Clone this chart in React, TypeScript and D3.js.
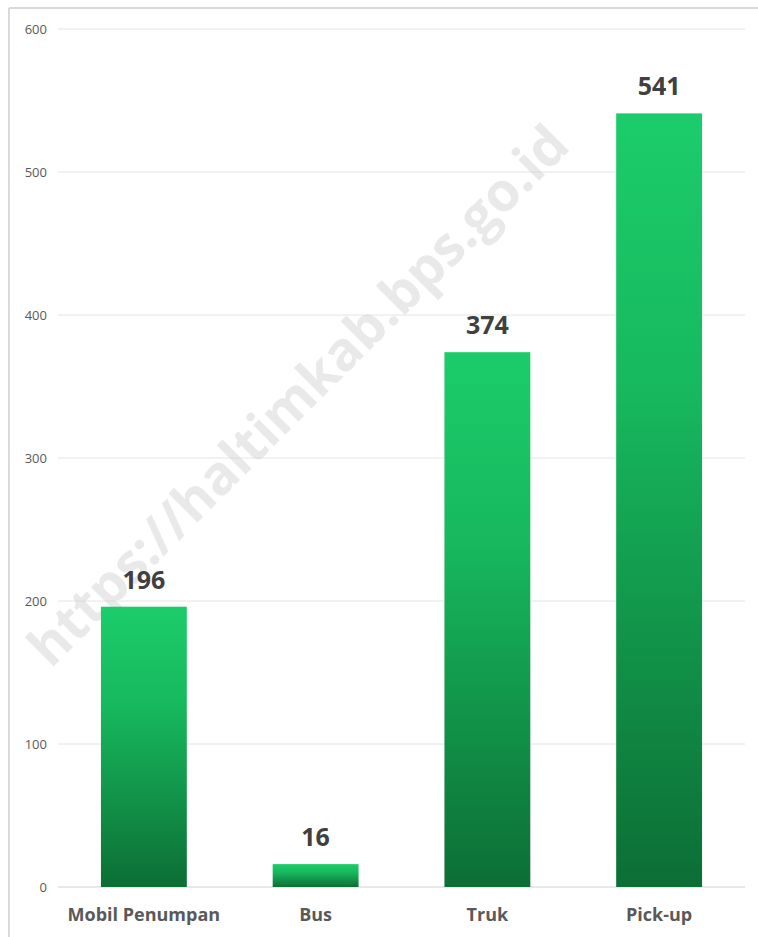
import React from "react";
import * as d3 from "d3";

const categories = ["Mobil Penumpan", "Bus", "Truk", "Pick-up"];
const values = [196, 16, 374, 541];
const yTicks = [0, 100, 200, 300, 400, 500, 600];

const W = 758;
const H = 937;

export default function App() {
  const x = d3.scaleBand<string>().domain(categories).range([58, 745]).paddingInner(0.5).paddingOuter(0.25);
  const y = d3.scaleLinear().domain([0, 600]).range([887, 29]);
  const font = "'Open Sans', Lato, sans-serif";
  return (
    <svg width={W} height={H} style={{ position: "absolute", left: 0, top: 0, background: "#fff" }}>
      <defs>
        <linearGradient id="barGrad" x1="0" y1="0" x2="0" y2="1">
          <stop offset="0%" stopColor="#1ccc6a" />
          <stop offset="35%" stopColor="#17b95e" />
          <stop offset="100%" stopColor="#0c6e35" />
        </linearGradient>
      </defs>
      <rect x={0} y={0} width={W} height={H} fill="#fff" />
      <line x1={9} x2={9} y1={8} y2={H} stroke="#d9d9d9" strokeWidth={2} />
      <line x1={9} x2={W} y1={8} y2={8} stroke="#d9d9d9" strokeWidth={2} />
      {yTicks.map((t) => (
        <g key={t}>
          <line x1={58} x2={745} y1={y(t)} y2={y(t)} stroke={t === 0 ? "#d0d0d0" : "#e4e4e4"} strokeWidth={1} />
          <text x={47} y={y(t)} dy="0.35em" textAnchor="end" fontSize={13} fill="#595959" fontFamily={font}>
            {t}
          </text>
        </g>
      ))}
      <text
        x={0}
        y={0}
        transform="translate(572,148) rotate(-45)"
        textAnchor="end"
        fontSize={54}
        fontWeight="bold"
        fill="#cfcfcf"
        fillOpacity={0.45}
        fontFamily={font}
      >
        https://haltimkab.bps.go.id
      </text>
      {categories.map((c, i) => (
        <g key={c}>
          <rect x={x(c)} y={y(values[i])} width={x.bandwidth()} height={y(0) - y(values[i])} fill="url(#barGrad)" />
          <text
            x={(x(c) as number) + x.bandwidth() / 2}
            y={y(values[i]) - 18}
            textAnchor="middle"
            fontSize={25}
            fontWeight="bold"
            fill="#404040"
            fontFamily={font}
          >
            {values[i]}
          </text>
          <text
            x={(x(c) as number) + x.bandwidth() / 2}
            y={921}
            textAnchor="middle"
            fontSize={18}
            fontWeight="bold"
            fill="#595959"
            fontFamily={font}
          >
            {c}
          </text>
        </g>
      ))}
    </svg>
  );
}
